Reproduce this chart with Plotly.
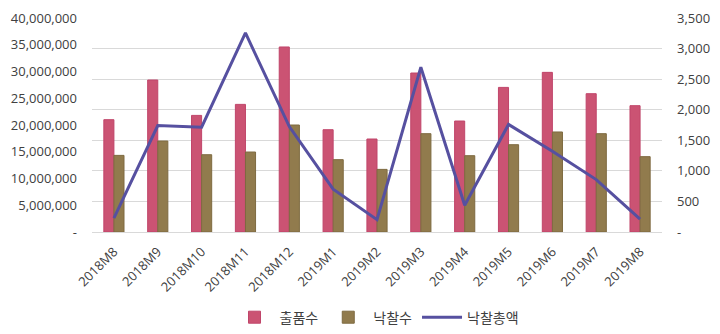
import plotly.graph_objects as go

categories = ["2018M8", "2018M9", "2018M10", "2018M11", "2018M12", "2019M1", "2019M2",
              "2019M3", "2019M4", "2019M5", "2019M6", "2019M7", "2019M8"]
items = [1837, 2486, 1907, 2087, 3026, 1673, 1521, 2600, 1815, 2365, 2611, 2262, 2066]
sold = [1253, 1488, 1264, 1308, 1750, 1183, 1024, 1608, 1248, 1428, 1636, 1608, 1232]
total = [2.6e6, 19.9e6, 19.6e6, 37.2e6, 19.7e6, 8.0e6, 2.3e6, 30.8e6, 5.0e6, 20.1e6, 15.1e6, 9.8e6, 2.4e6]

left_ticks = [0, 5e6, 10e6, 15e6, 20e6, 25e6, 30e6, 35e6, 40e6]
left_text = ["-", "5,000,000", "10,000,000", "15,000,000", "20,000,000", "25,000,000",
             "30,000,000", "35,000,000", "40,000,000"]
right_ticks = [0, 500, 1000, 1500, 2000, 2500, 3000, 3500]
right_text = ["-", "500", "1,000", "1,500", "2,000", "2,500", "3,000", "3,500"]

font = "Open Sans, Noto Sans CJK KR, sans-serif"

fig = go.Figure()
fig.add_trace(go.Bar(x=categories, y=items, name="출품수", yaxis="y",
                     marker=dict(color="#CB5373", line=dict(color="#C0456A", width=1))))
fig.add_trace(go.Bar(x=categories, y=sold, name="낙찰수", yaxis="y",
                     marker=dict(color="#917B4D", line=dict(color="#7E6A40", width=1))))
fig.add_trace(go.Scatter(x=categories, y=total, name="낙찰총액", mode="lines", yaxis="y2",
                         line=dict(color="#5650A0", width=3)))

fig.update_layout(
    width=720, height=334,
    margin=dict(l=92, r=58, t=18, b=102, autoexpand=False),
    paper_bgcolor="white", plot_bgcolor="white",
    font=dict(family=font, size=13, color="#404040"),
    barmode="group", bargap=0.54, bargroupgap=0,
    showlegend=True,
    legend=dict(orientation="h", x=0.5, xanchor="center", y=-0.40, yanchor="middle",
                font=dict(size=14, color="#404040"), traceorder="normal", itemwidth=40),
    xaxis=dict(type="category", tickangle=-45, showgrid=False, showline=True,
               linecolor="#d9d9d9", linewidth=1, ticks="", tickfont=dict(size=13),
               ticklabelstandoff=6, automargin=False),
    yaxis=dict(range=[0, 3500], tickvals=right_ticks, ticktext=right_text,
               side="right", showgrid=True, gridcolor="#d9d9d9", gridwidth=1, zeroline=False,
               ticks="", tickfont=dict(size=13), ticklabelstandoff=14, automargin=False),
    yaxis2=dict(range=[0, 40e6], tickvals=left_ticks, ticktext=left_text,
                overlaying="y", side="left", showgrid=False, zeroline=False,
                ticks="", tickfont=dict(size=13), ticklabelstandoff=14, automargin=False),
)

fig.write_html("out.html")
